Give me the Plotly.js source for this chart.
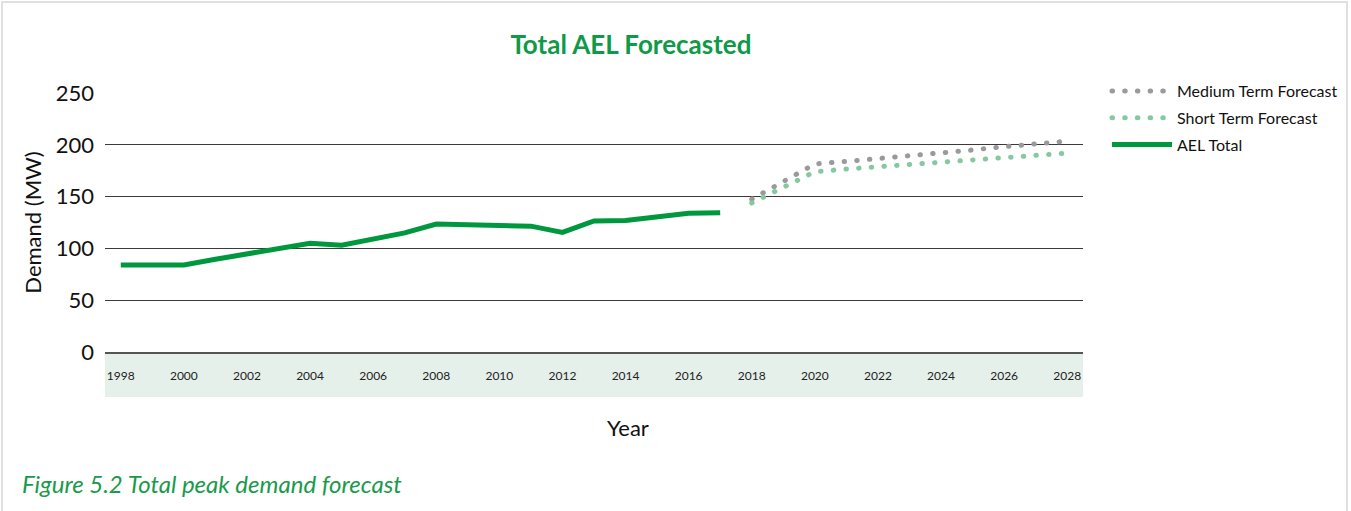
<!DOCTYPE html>
<html>
<head>
<meta charset="utf-8">
<script src="https://cdn.plot.ly/plotly-3.0.1.min.js"></script>
<style>
  html, body { margin: 0; padding: 0; background: #fff; }
  #wrap { position: relative; width: 1351px; height: 511px; }
  #chart { width: 1351px; height: 511px; }
  #frame { position: absolute; left: 1px; top: 1px; width: 1347px; height: 515px; border: 2px solid #e0e0e0; box-sizing: border-box; pointer-events: none; }
  .tracemed path.js-line, .traceshort path.js-line,
  .legend .groups:nth-of-type(1) path.js-line,
  .legend .groups:nth-of-type(2) path.js-line { stroke-linecap: round !important; }
</style>
</head>
<body>
<div id="wrap">
  <div id="chart"></div>
  <div id="frame"></div>
</div>
<script>
// ---- data ----
const years = [];
for (let y = 1998; y <= 2028; y++) years.push(String(y));
const tickYears = ["1998","2000","2002","2004","2006","2008","2010","2012","2014","2016","2018","2020","2022","2024","2026","2028"];

const aelYears = ["1998","1999","2000","2001","2002","2003","2004","2005","2006","2007","2008","2009","2010","2011","2012","2013","2014","2015","2016","2017"];
const aelTotal = [84, 84, 84, 89.5, 95, 100, 105, 103, 109, 115, 123.5, 123, 122.5, 121.5, 115.5, 126.5, 127, 130.5, 134, 134.5];

const fcYears = ["2018","2019","2020","2021","2022","2023","2024","2025","2026","2027","2028"];
const mediumTerm = [147.5, 165, 181.5, 184, 186.5, 189.2, 192, 195, 198.2, 201, 203.5];
const shortTerm  = [143.8, 159, 174, 176.6, 178.8, 181.2, 183.4, 185.6, 187.9, 190.2, 192];

const dotDash = "0.5px,12.2px";

const traces = [
  { x: fcYears, y: mediumTerm, name: "Medium Term Forecast", type: "scatter", mode: "lines", uid: "med", legendgroup: "g1",
    line: { color: "#9a9a9c", width: 5, dash: dotDash }, hoverinfo: "x+y" },
  { x: fcYears, y: shortTerm, name: "Short Term Forecast", type: "scatter", mode: "lines", uid: "short", legendgroup: "g2",
    line: { color: "#86c8a0", width: 5, dash: dotDash }, hoverinfo: "x+y" },
  { x: aelYears, y: aelTotal, name: "AEL Total", type: "scatter", mode: "lines", uid: "ael", legendgroup: "g3",
    line: { color: "#00983e", width: 5 }, hoverinfo: "x+y" }
];

const layout = {
  width: 1351, height: 511,
  margin: { l: 105, r: 268, t: 93, b: 159 },
  paper_bgcolor: "#ffffff",
  plot_bgcolor: "rgba(0,0,0,0)",
  font: { family: "Lato, 'Noto Sans', sans-serif", color: "#111" },
  title: {
    text: "<b>Total AEL Forecasted</b>",
    font: { family: "Lato, sans-serif", size: 26, color: "#0e9a48" },
    xref: "container", x: 0.467, xanchor: "center",
    yref: "container", y: 0.912, yanchor: "middle"
  },
  showlegend: true,
  legend: {
    xref: "container", x: 1107 / 1351, xanchor: "left",
    yref: "container", y: 1 - 74 / 511, yanchor: "top",
    font: { family: "Lato, sans-serif", size: 16, color: "#111" },
    itemwidth: 60, traceorder: "grouped", tracegroupgap: 3, bgcolor: "rgba(0,0,0,0)"
  },
  xaxis: {
    type: "category",
    categoryorder: "array", categoryarray: years,
    range: [-0.5, years.length - 0.5],
    tickmode: "array", tickvals: tickYears, ticktext: tickYears,
    tickfont: { family: "Lato, sans-serif", size: 12, color: "#222" },
    ticks: "", ticklabelstandoff: 12,
    showgrid: false, zeroline: false,
    showline: true, linecolor: "#555", linewidth: 2,
    automargin: false
  },
  yaxis: {
    range: [0, 250],
    tickvals: [0, 50, 100, 150, 200, 250],
    tickfont: { family: "Lato, sans-serif", size: 22, color: "#111" },
    ticks: "", ticklabelstandoff: 10,
    showgrid: true, gridcolor: "#3a3a3a", gridwidth: 1,
    zeroline: false, showline: false,
    title: { text: "Demand (MW)", font: { family: "Lato, sans-serif", size: 22, color: "#111" }, standoff: 8 },
    automargin: false
  },
  shapes: [
    { type: "rect", xref: "paper", yref: "paper", x0: 0, x1: 1, y0: -0.1737, y1: 0,
      fillcolor: "#e6f0ea", line: { width: 0 }, layer: "below" }
  ],
  annotations: [
    { text: "Year", xref: "paper", yref: "paper",
      x: (628 - 105) / 978, xanchor: "center", y: -(427 - 352) / 259, yanchor: "middle",
      showarrow: false, font: { family: "Lato, sans-serif", size: 22, color: "#111" } },
    { text: "<i>Figure 5.2 Total peak demand forecast</i>", xref: "paper", yref: "paper",
      x: (20 - 105) / 978, xanchor: "left", y: -(484 - 352) / 259, yanchor: "middle",
      showarrow: false, font: { family: "Lato, sans-serif", size: 24, color: "#1a9a4a" } }
  ]
};

Plotly.newPlot("chart", traces, layout, { displayModeBar: false });
</script>
</body>
</html>
